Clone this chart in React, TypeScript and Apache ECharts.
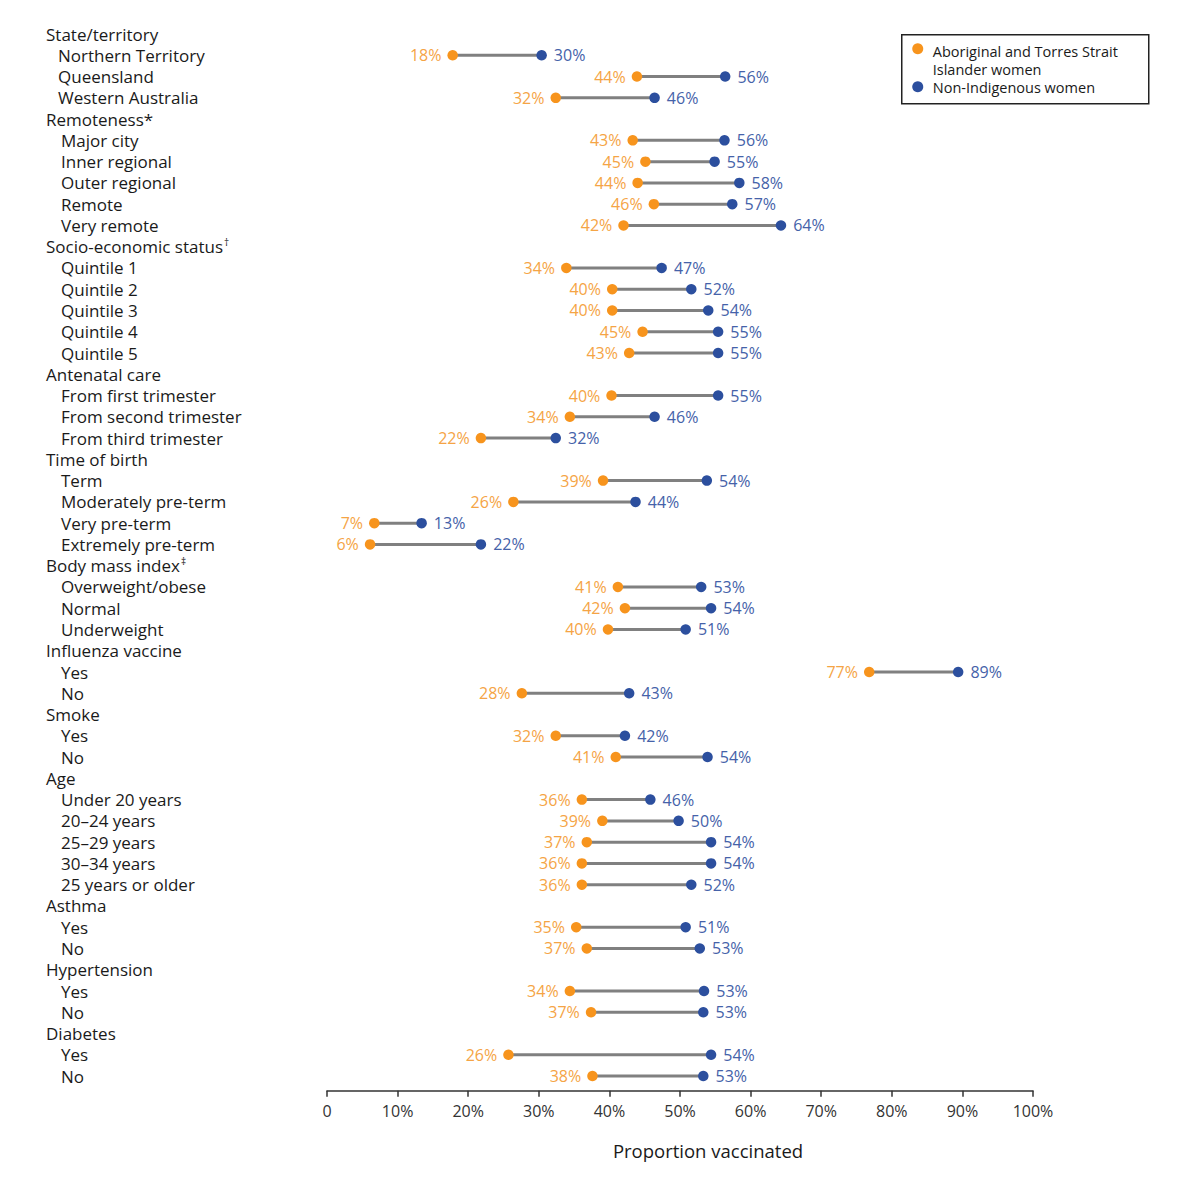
import { useEffect, useRef } from "react";
import * as echarts from "echarts";

const FONT = "'Open Sans', sans-serif";

const ORANGE = "#F7941D";
const BLUE = "#2C4F9E";
const ORANGE_TEXT = "#F5A445";
const BLUE_TEXT = "#4562A9";

// Section headers; "†" / "‡" are drawn as superscripts
const groups = [
  "State/territory",
  "Remoteness*",
  "Socio-economic status†",
  "Antenatal care",
  "Time of birth",
  "Body mass index‡",
  "Influenza vaccine",
  "Smoke",
  "Age",
  "Asthma",
  "Hypertension",
  "Diabetes",
];

const items = [
  ["Northern Territory", "Queensland", "Western Australia"],
  ["Major city", "Inner regional", "Outer regional", "Remote", "Very remote"],
  ["Quintile 1", "Quintile 2", "Quintile 3", "Quintile 4", "Quintile 5"],
  ["From first trimester", "From second trimester", "From third trimester"],
  ["Term", "Moderately pre-term", "Very pre-term", "Extremely pre-term"],
  ["Overweight/obese", "Normal", "Underweight"],
  ["Yes", "No"],
  ["Yes", "No"],
  ["Under 20 years", "20–24 years", "25–29 years", "30–34 years", "25 years or older"],
  ["Yes", "No"],
  ["Yes", "No"],
  ["Yes", "No"],
];

// Aboriginal and Torres Strait Islander women (%)
const indigenous = [
  [17.8, 43.9, 32.4],
  [43.3, 45.1, 44.0, 46.3, 42.0],
  [33.9, 40.4, 40.4, 44.7, 42.8],
  [40.3, 34.4, 21.8],
  [39.1, 26.4, 6.7, 6.1],
  [41.2, 42.2, 39.8],
  [76.8, 27.6],
  [32.4, 40.9],
  [36.1, 39.0, 36.8, 36.1, 36.1],
  [35.3, 36.8],
  [34.4, 37.4],
  [25.7, 37.6],
];

// Non-Indigenous women (%)
const nonIndigenous = [
  [30.4, 56.4, 46.4],
  [56.3, 54.9, 58.4, 57.4, 64.3],
  [47.4, 51.6, 54.0, 55.4, 55.4],
  [55.4, 46.4, 32.4],
  [53.8, 43.7, 13.4, 21.8],
  [53.0, 54.4, 50.8],
  [89.4, 42.8],
  [42.2, 53.9],
  [45.8, 49.8, 54.4, 54.4, 51.6],
  [50.8, 52.8],
  [53.4, 53.3],
  [54.4, 53.3],
];

type Row = { label: string; header: boolean; group: number };

function buildRows() {
  const rows: Row[] = [];
  const orange: number[][] = [];
  const blue: number[][] = [];
  const links: number[][] = [];
  groups.forEach((g, gi) => {
    rows.push({ label: g, header: true, group: gi });
    items[gi].forEach((it, ii) => {
      const idx = rows.length;
      rows.push({ label: it, header: false, group: gi });
      const o = indigenous[gi][ii];
      const b = nonIndigenous[gi][ii];
      orange.push([o, idx]);
      blue.push([b, idx]);
      links.push([o, b, idx]);
    });
  });
  return { rows, orange, blue, links };
}

export default function App() {
  const chartRef = useRef<HTMLDivElement>(null);

  useEffect(() => {
    document.body.style.margin = "0";
    if (!chartRef.current) return;
    const chart = echarts.init(chartRef.current, null, { renderer: "svg" });
    const { rows, orange, blue, links } = buildRows();

    const labelFormatter = (value: string) => {
      const row = rows[Number(value)];
      if (row.header) {
        const m = row.label.match(/^(.*?)([†‡])$/);
        if (m) return `{h|${m[1]}}{sup|${m[2]}}`;
        return `{h|${row.label}}`;
      }
      return row.group === 0 ? `{s0|${row.label}}` : `{s|${row.label}}`;
    };

    const rowText = { fontSize: 17, lineHeight: 20, color: "#1a1a1a", fontFamily: FONT };
    const legendText = { fontSize: 14.5, fill: "#1a1a1a", fontFamily: FONT, verticalAlign: "middle" };

    chart.setOption({
      animation: false,
      textStyle: { fontFamily: FONT },
      grid: { left: 327, right: 167, top: 23.4, height: 1063.3 },
      xAxis: {
        type: "value",
        min: 0,
        max: 100,
        interval: 10,
        offset: 4,
        name: "Proportion vaccinated",
        nameLocation: "middle",
        nameGap: 50,
        nameTextStyle: {
          fontSize: 18.5,
          color: "#1a1a1a",
          fontFamily: FONT,
          padding: [0, 0, 0, 56],
        },
        axisLine: { show: true, lineStyle: { color: "#333", width: 1.5 } },
        axisTick: { show: true, length: 6, lineStyle: { color: "#333", width: 1.5 } },
        axisLabel: {
          margin: 12,
          fontSize: 16,
          color: "#333",
          fontFamily: FONT,
          formatter: (v: number) => (v === 0 ? "0" : `${v}%`),
        },
        splitLine: { show: false },
      },
      yAxis: {
        type: "category",
        inverse: true,
        data: rows.map((_, i) => String(i)),
        axisLine: { show: false },
        axisTick: { show: false },
        splitLine: { show: false },
        axisLabel: {
          interval: 0,
          align: "left",
          margin: 281,
          formatter: labelFormatter,
          rich: {
            h: rowText,
            s: { ...rowText, padding: [0, 0, 0, 15] },
            s0: { ...rowText, padding: [0, 0, 0, 12] },
            sup: { fontSize: 10, lineHeight: 20, color: "#1a1a1a", fontFamily: FONT, padding: [0, 0, 9, 1] },
          },
        },
      },
      graphic: [
        {
          type: "group",
          left: 901,
          top: 34,
          children: [
            {
              type: "rect",
              shape: { x: 0, y: 0, width: 247, height: 69 },
              style: { fill: "#fff", stroke: "#222", lineWidth: 1.5 },
            },
            { type: "circle", shape: { cx: 16, cy: 14, r: 5.5 }, style: { fill: ORANGE } },
            {
              type: "text",
              x: 31,
              y: 16.8,
              style: { ...legendText, text: "Aboriginal and Torres Strait" },
            },
            {
              type: "text",
              x: 31,
              y: 34.6,
              style: { ...legendText, text: "Islander women" },
            },
            { type: "circle", shape: { cx: 16, cy: 52, r: 5.5 }, style: { fill: BLUE } },
            {
              type: "text",
              x: 31,
              y: 52.6,
              style: { ...legendText, text: "Non-Indigenous women" },
            },
          ],
        },
      ],
      series: [
        {
          type: "custom",
          name: "gap",
          data: links,
          encode: { x: [0, 1], y: 2 },
          silent: true,
          z: 1,
          renderItem: (_params: any, api: any) => {
            const p1 = api.coord([api.value(0), api.value(2)]);
            const p2 = api.coord([api.value(1), api.value(2)]);
            return {
              type: "line",
              shape: { x1: p1[0], y1: p1[1], x2: p2[0], y2: p2[1] },
              style: { stroke: "#808080", lineWidth: 3 },
            };
          },
        },
        {
          type: "scatter",
          name: "Aboriginal and Torres Strait Islander women",
          data: orange,
          symbol: "circle",
          symbolSize: 10.5,
          z: 3,
          itemStyle: { color: ORANGE, opacity: 1 },
          label: {
            show: true,
            position: "left",
            distance: 6,
            fontSize: 16,
            color: ORANGE_TEXT,
            fontFamily: FONT,
            formatter: (p: any) => `${Math.round(p.value[0])}%`,
          },
        },
        {
          type: "scatter",
          name: "Non-Indigenous women",
          data: blue,
          symbol: "circle",
          symbolSize: 10.5,
          z: 3,
          itemStyle: { color: BLUE, opacity: 1 },
          label: {
            show: true,
            position: "right",
            distance: 7,
            fontSize: 16,
            color: BLUE_TEXT,
            fontFamily: FONT,
            formatter: (p: any) => `${Math.round(p.value[0])}%`,
          },
        },
      ],
    });

    return () => chart.dispose();
  }, []);

  return <div ref={chartRef} style={{ width: 1200, height: 1188 }} />;
}
